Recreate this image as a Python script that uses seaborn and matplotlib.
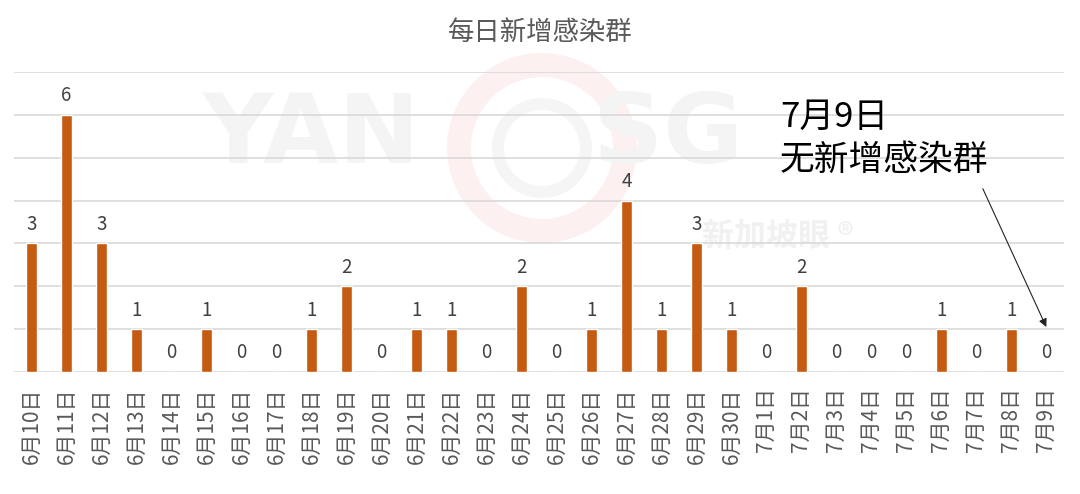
import matplotlib
matplotlib.use("Agg")
import matplotlib.pyplot as plt
from matplotlib.patches import Wedge
import seaborn as sns
import pandas as pd

dates = ["6月10日", "6月11日", "6月12日", "6月13日", "6月14日", "6月15日", "6月16日",
         "6月17日", "6月18日", "6月19日", "6月20日", "6月21日", "6月22日", "6月23日",
         "6月24日", "6月25日", "6月26日", "6月27日", "6月28日", "6月29日", "6月30日",
         "7月1日", "7月2日", "7月3日", "7月4日", "7月5日", "7月6日", "7月7日",
         "7月8日", "7月9日"]
values = [3, 6, 3, 1, 0, 1, 0, 0, 1, 2, 0, 1, 1, 0, 2, 0, 1, 4, 1, 3, 1,
          0, 2, 0, 0, 0, 1, 0, 1, 0]

title = "每日新增感染群"
note = "7月9日\n无新增感染群"

sns.set_theme(style="white")
plt.rcParams['font.family'] = ['Noto Sans CJK SC', 'DejaVu Sans']

df = pd.DataFrame({"date": dates, "value": values})

fig = plt.figure(figsize=(10.8, 4.94), dpi=100)

# faint watermark layer (pixel coordinates)
wm = fig.add_axes([0, 0, 1, 1], zorder=0)
wm.set_xlim(0, 1080)
wm.set_ylim(494, 0)
wm.set_aspect("equal")
wm.axis("off")
wm.add_patch(Wedge((542, 148), 95, 0, 360, width=24, color="#fdf0f0", lw=0))
wm.add_patch(Wedge((542, 148), 50, 0, 360, width=12, color="#f5f5f5", lw=0))
wm.text(312, 136, "YAN", fontsize=70, fontweight="bold", color="#f4f4f4",
        ha="center", va="center", family=["DejaVu Sans"])
wm.text(668, 136, "SG", fontsize=70, fontweight="bold", color="#f4f4f4",
        ha="center", va="center", family=["DejaVu Sans"])
wm.text(778, 237, "新加坡眼 ®", fontsize=23, fontweight="bold", color="#f1f1f1",
        ha="center", va="center")

ax = fig.add_axes([0.013, 0.247, 0.972, 0.607], zorder=1)
ax.set_facecolor("none")
sns.barplot(data=df, x="date", y="value", color="#C55A11", width=0.32,
            saturation=1, ax=ax, zorder=3)

for i, v in enumerate(values):
    ax.text(i, v + 0.2, str(v), ha="center", va="bottom", fontsize=13.5,
            color="#404040", zorder=4)

ax.set_ylim(0, 7)
ax.set_xlim(-0.5, 29.5)
ax.set_yticks(range(0, 8))
ax.yaxis.grid(True, color="#d9d9d9", linewidth=1.2, zorder=0)
ax.set_axisbelow(True)
ax.tick_params(axis="y", left=False, labelleft=False)
ax.tick_params(axis="x", bottom=False, pad=5, labelsize=15, labelcolor="#595959")
for lbl in ax.get_xticklabels():
    lbl.set_rotation(90)
ax.set_xlabel("")
ax.set_ylabel("")
for s in ["top", "right", "left", "bottom"]:
    ax.spines[s].set_visible(False)

fig.text(0.5, 0.935, title, ha="center", va="center", fontsize=19, color="#595959")

ax.annotate(note, xy=(29, 1.05), xytext=(0.722, 0.64), textcoords="figure fraction",
            fontsize=25, color="black", ha="left", va="bottom", linespacing=1.3,
            arrowprops=dict(arrowstyle="-|>", color="#222222", lw=0.8,
                            shrinkA=6, shrinkB=0, mutation_scale=12,
                            relpos=(0.95, 0.0)))

fig.savefig("out.png", dpi=100)
